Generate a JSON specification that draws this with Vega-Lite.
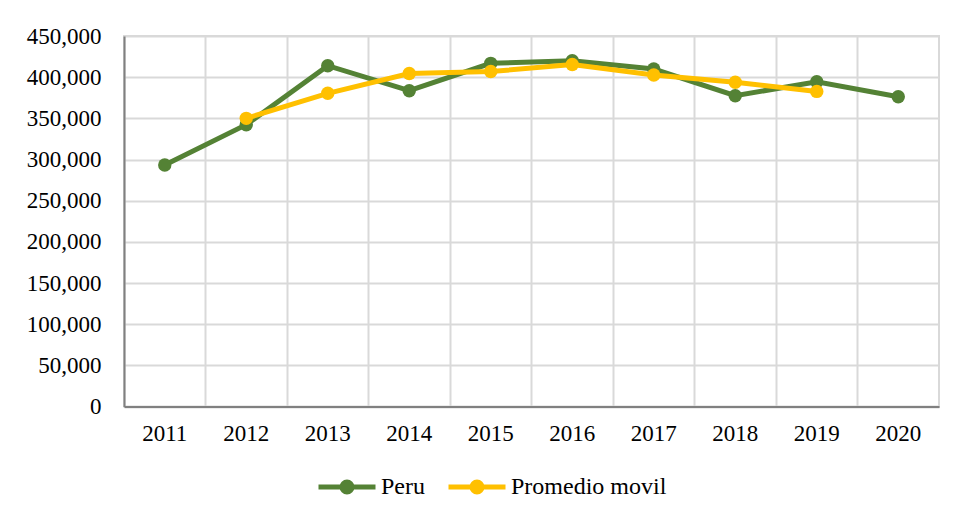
{
  "$schema": "https://vega.github.io/schema/vega-lite/v6.json",
  "width": 815,
  "height": 370.5,
  "autosize": {"type": "none"},
  "padding": {"left": 124, "top": 36, "right": 19, "bottom": 115.5},
  "background": "white",
  "config": {
    "view": {"stroke": "#d9d9d9", "strokeWidth": 2},
    "font": "Liberation Serif",
    "axis": {"labelFont": "Liberation Serif", "labelFontSize": 23, "labelColor": "#000000", "title": null}
  },
  "data": {
    "values": [
      {"year": "2011", "serie": "Peru", "value": 293300},
      {"year": "2012", "serie": "Peru", "value": 342300},
      {"year": "2013", "serie": "Peru", "value": 413900},
      {"year": "2014", "serie": "Peru", "value": 383600},
      {"year": "2015", "serie": "Peru", "value": 416800},
      {"year": "2016", "serie": "Peru", "value": 420000},
      {"year": "2017", "serie": "Peru", "value": 409900},
      {"year": "2018", "serie": "Peru", "value": 377500},
      {"year": "2019", "serie": "Peru", "value": 394500},
      {"year": "2020", "serie": "Peru", "value": 376300},
      {"year": "2012", "serie": "Promedio movil", "value": 350000},
      {"year": "2013", "serie": "Promedio movil", "value": 380400},
      {"year": "2014", "serie": "Promedio movil", "value": 404500},
      {"year": "2015", "serie": "Promedio movil", "value": 406800},
      {"year": "2016", "serie": "Promedio movil", "value": 415300},
      {"year": "2017", "serie": "Promedio movil", "value": 402600},
      {"year": "2018", "serie": "Promedio movil", "value": 393900},
      {"year": "2019", "serie": "Promedio movil", "value": 382700}
    ]
  },
  "encoding": {
    "y": {
      "field": "value", "type": "quantitative",
      "scale": {"domain": [0, 450000], "nice": false, "zero": true},
      "axis": {
        "values": [0, 50000, 100000, 150000, 200000, 250000, 300000, 350000, 400000, 450000],
        "format": ",.0f", "grid": true, "gridColor": "#d9d9d9", "gridWidth": 2,
        "domainColor": "#808080", "domainWidth": 2, "ticks": false,
        "labelPadding": 23, "title": null
      }
    },
    "color": {
      "field": "serie", "type": "nominal",
      "scale": {"domain": ["Peru", "Promedio movil"], "range": ["#548235", "#FFC000"]},
      "legend": {
        "orient": "none", "legendX": 192, "legendY": 420, "direction": "horizontal",
        "title": null,
        "symbolType": "M-1,0L1,0M0.175,0A0.175,0.175 0 1,1 -0.175,0A0.175,0.175 0 1,1 0.175,0Z",
        "symbolSize": 3249, "symbolStrokeWidth": 5,
        "labelFont": "Liberation Serif", "labelFontSize": 24, "labelColor": "#000000",
        "labelOffset": 3, "columnPadding": 13,
        "encode": {"symbols": {"update": {"fill": {"scale": "color", "field": "value"}, "stroke": {"scale": "color", "field": "value"}}}}
      }
    }
  },
  "layer": [
    {
      "transform": [{"filter": "datum.serie === 'Peru'"}],
      "mark": {"type": "line", "strokeWidth": 5, "point": {"filled": true, "size": 180}},
      "encoding": {
        "x": {
          "field": "year", "type": "ordinal", "bandPosition": 0.5,
          "scale": {"type": "band", "paddingInner": 0, "paddingOuter": 0},
          "axis": {"orient": "bottom", "bandPosition": 0, "grid": true, "gridColor": "#d9d9d9", "gridWidth": 2, "labels": false, "domain": false, "ticks": false, "title": null}
        }
      }
    },
    {
      "transform": [{"filter": "datum.serie === 'Promedio movil'"}],
      "mark": {"type": "line", "strokeWidth": 5, "point": {"filled": true, "size": 180}},
      "encoding": {
        "x": {
          "field": "year", "type": "ordinal", "bandPosition": 0.5,
          "scale": {"type": "band", "paddingInner": 0, "paddingOuter": 0},
          "axis": {"orient": "bottom", "grid": false, "labels": true, "domain": true, "domainColor": "#808080", "domainWidth": 2, "ticks": false, "labelPadding": 16, "labelAngle": 0, "title": null}
        }
      }
    }
  ],
  "resolve": {"axis": {"x": "independent"}}
}
